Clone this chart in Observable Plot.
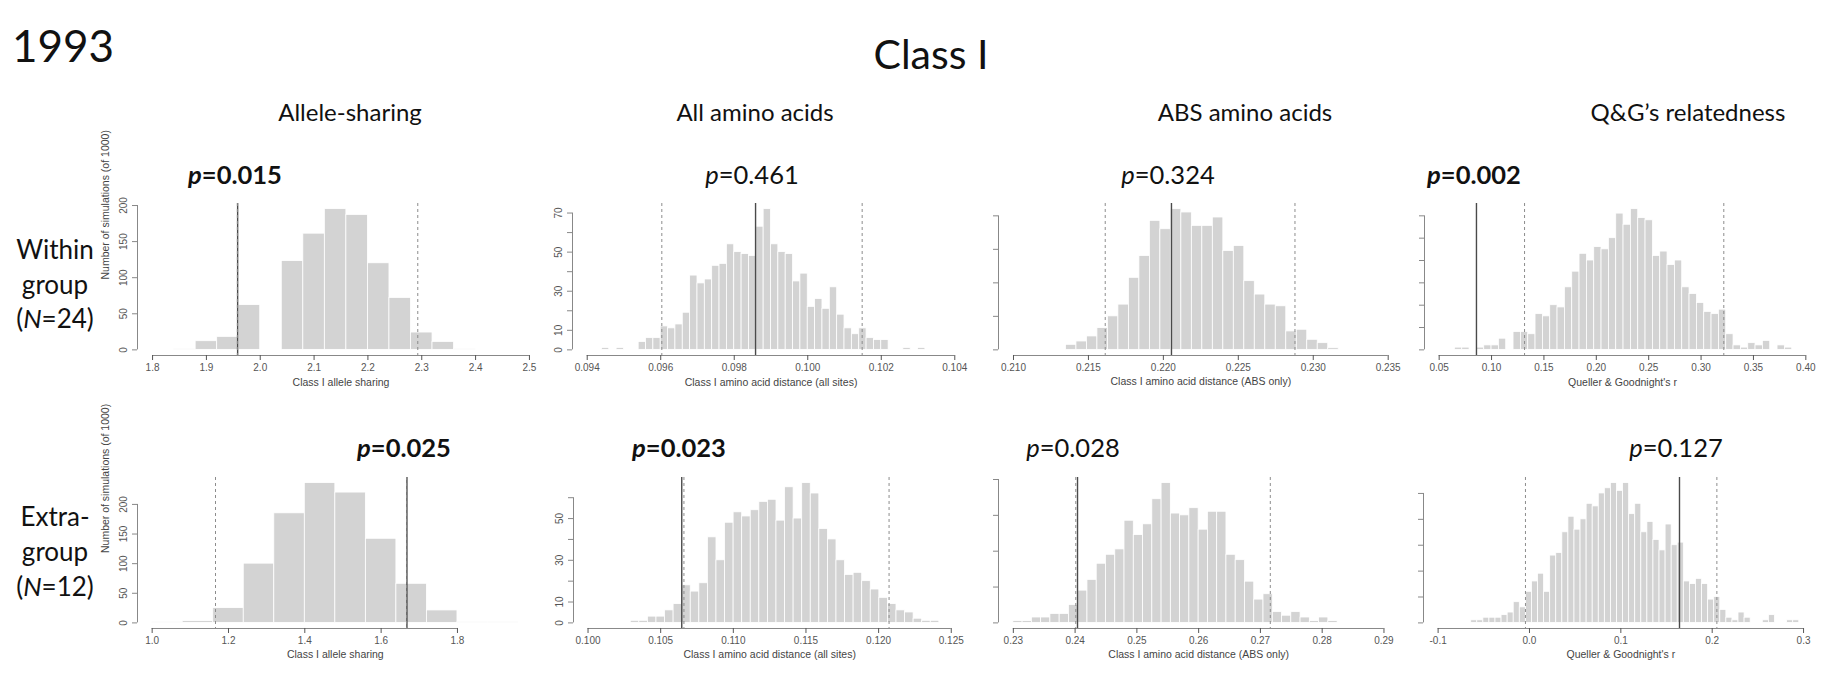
<!DOCTYPE html>
<html><head><meta charset="utf-8">
<script src="https://cdn.jsdelivr.net/npm/d3@7"></script>
<script src="https://cdn.jsdelivr.net/npm/@observablehq/plot@0.6"></script>
<style>
html,body{margin:0;padding:0;background:#fff;}
#root{position:relative;width:1836px;height:673px;overflow:hidden;background:#fff;font-family:Lato,"Open Sans",sans-serif;color:#111;}
.t{position:absolute;white-space:nowrap;line-height:1;}
.panel{position:absolute;}
</style></head><body><div id="root"></div>
<script>
// ---------- text ----------
const yearLabel = "1993";
const classLabel = "Class I";
const columnTitles = ["Allele-sharing", "All amino acids", "ABS amino acids", "Q&G\u2019s relatedness"];
const xAxisTitles = ["Class I allele sharing", "Class I amino acid distance (all sites)", "Class I amino acid distance (ABS only)", "Queller & Goodnight's r"];
const yAxisTitle = "Number of simulations (of 1000)";
const rowLabels = [["Within", "group", "(<i>N</i>=24)"], ["Extra-", "group", "(<i>N</i>=12)"]];
const pValues = [["0.015", "0.461", "0.324", "0.002"], ["0.025", "0.023", "0.028", "0.127"]];
const pBold = [[true, false, false, true], [true, true, false, false]];

// ---------- histogram counts (of 1000 simulations); bins = [first break, bin width] ----------
const withinAlleleCounts = [1, 12, 18, 62, 0, 123, 161, 195, 187, 120, 72, 24, 11, 1];
const withinAlleleBins = [1.84, 0.04];
const withinAllCounts = [1, 0, 1, 0, 0, 4, 6, 6, 12, 11, 13, 19, 38, 34, 36, 43, 44, 54, 50, 49, 48, 63, 72, 54, 50, 49, 35, 39, 22, 26, 21, 32, 18, 11, 8, 11, 6, 5, 5, 0, 0, 1, 0, 1];
const withinAllBins = [0.0944, 0.0002];
const withinAbsCounts = [3, 5, 8, 13, 20, 27, 43, 56, 77, 72, 84, 82, 74, 74, 79, 59, 62, 41, 33, 27, 26, 11, 12, 6, 4, 1];
const withinAbsBins = [0.2135, 0.0007];
const withinQgCounts = [1, 1, 0, 1, 2, 2, 5, 0, 8, 8, 7, 16, 15, 20, 19, 28, 35, 43, 40, 46, 45, 50, 61, 56, 63, 59, 58, 42, 44, 38, 40, 28, 25, 21, 17, 16, 18, 7, 2, 1, 3, 2, 4, 0, 2, 1];
const withinQgBins = [0.065, 0.007];

const extraAlleleCounts = [1, 3, 25, 100, 185, 236, 220, 142, 66, 21, 1, 1];
const extraAlleleBins = [1.0, 0.08];
const extraAllCounts = [1, 1, 3, 3, 6, 9, 18, 15, 19, 41, 30, 48, 53, 51, 54, 58, 59, 49, 65, 50, 67, 62, 45, 40, 30, 23, 24, 20, 16, 12, 9, 6, 5, 2, 1, 1];
const extraAllBins = [0.10294, 0.00059];
const extraAbsCounts = [1, 1, 3, 3, 5, 5, 10, 18, 24, 33, 38, 41, 57, 49, 55, 69, 78, 61, 60, 64, 52, 62, 62, 38, 35, 23, 13, 16, 6, 4, 6, 3, 1, 3, 1];
const extraAbsBins = [0.230, 0.0015];
const extraQgCounts = [1, 1, 2, 2, 2, 3, 4, 8, 6, 12, 16, 19, 12, 26, 27, 35, 41, 36, 40, 46, 45, 50, 52, 54, 51, 54, 42, 46, 35, 39, 32, 28, 38, 30, 31, 16, 15, 17, 15, 9, 10, 5, 2, 1, 4, 2, 0, 0, 1, 3, 0, 0, 1, 1];
const extraQgBins = [-0.0638, 0.00665];

// ---------- observed value and 2.5% / 97.5% quantiles ----------
const observed = [[1.958, 0.09858, 0.22054, 0.0856], [1.6676, 0.10645, 0.24039, 0.1642]];
const quantLow = [[1.9575, 0.09603, 0.21612, 0.1315], [1.166, 0.1066, 0.24011, -0.0044]];
const quantHigh = [[2.2926, 0.10148, 0.22878, 0.3217], [1.6668, 0.12072, 0.2716, 0.2051]];

// ---------- axes ----------
const xLimits = [[[1.8, 2.5], [0.094, 0.104], [0.21, 0.235], [0.05, 0.40]], [[1.0, 1.96], [0.1, 0.125], [0.23, 0.29], [-0.1, 0.3]]];
const xTicks = [
  [[1.8, 1.9, 2.0, 2.1, 2.2, 2.3, 2.4, 2.5], [0.094, 0.096, 0.098, 0.100, 0.102, 0.104], [0.210, 0.215, 0.220, 0.225, 0.230, 0.235], [0.05, 0.10, 0.15, 0.20, 0.25, 0.30, 0.35, 0.40]],
  [[1.0, 1.2, 1.4, 1.6, 1.8], [0.100, 0.105, 0.110, 0.115, 0.120, 0.125], [0.23, 0.24, 0.25, 0.26, 0.27, 0.28, 0.29], [-0.1, 0.0, 0.1, 0.2, 0.3]]
];
const xTickDecimals = [[1, 3, 3, 2], [1, 3, 2, 1]];
const yTicks = [
  [[0, 50, 100, 150, 200], [0, 10, 20, 30, 40, 50, 60, 70], [0, 20, 40, 60, 80], [0, 10, 20, 30, 40, 50, 60]],
  [[0, 50, 100, 150, 200], [0, 10, 20, 30, 40, 50, 60], [0, 20, 40, 60, 80], [0, 10, 20, 30, 40, 50]]
];
const yTickLabels = [
  [[0, 50, 100, 150, 200], [0, 10, 30, 50, 70], [], []],
  [[0, 50, 100, 150, 200], [0, 10, 30, 50], [], []]
];

const counts = [[withinAlleleCounts, withinAllCounts, withinAbsCounts, withinQgCounts], [extraAlleleCounts, extraAllCounts, extraAbsCounts, extraQgCounts]];
const bins = [[withinAlleleBins, withinAllBins, withinAbsBins, withinQgBins], [extraAlleleBins, extraAllBins, extraAbsBins, extraQgBins]];

// ---------- layout (page pixels) ----------
const layout = {
  rows: [{top: 203, bottom: 355, pY: 175}, {top: 476.5, bottom: 627.5, pY: 448}],
  regions: [[[137, 544], [572, 969], [998.3, 1403], [1424, 1820]], [[137.3, 533], [572.7, 965], [997.7, 1398], [1423.3, 1818]]],
  pX: [[235, 752, 1168, 1474], [404, 679, 1073, 1676]],
  titleX: [350, 755, 1245, 1688], titleY: 112,
  rowLabelX: 55, rowLabelY: [[249, 284, 318], [516, 551, 586]]
};

const root = document.getElementById("root");
function addText(html, x, y, size, opts = {}) {
  const d = document.createElement("div");
  d.className = "t";
  d.innerHTML = html;
  d.style.left = x + "px";
  d.style.top = y + "px";
  d.style.fontSize = size + "px";
  d.style.transform = opts.left ? "translate(0,-50%)" : "translate(-50%,-50%)";
  if (opts.bold) d.style.fontWeight = "700";
  root.appendChild(d);
}

addText(yearLabel, 12, 45, 44, {left: true});
addText(classLabel, 931, 53, 41);
columnTitles.forEach((t, i) => addText(t, layout.titleX[i], layout.titleY, 24));
rowLabels.forEach((lines, r) => lines.forEach((l, k) => addText(l, layout.rowLabelX, layout.rowLabelY[r][k], 26)));

const fmt = (dec) => (v) => d3.format("." + dec + "f")(v).replace("\u2212", "-");

for (let r = 0; r < 2; r++) {
  for (let c = 0; c < 4; c++) {
    const row = layout.rows[r];
    const reg = layout.regions[r][c];
    const padL = 62, padR = 22, padT = 6, padB = 48;
    const w = reg[1] - reg[0] + padL + padR;
    const h = row.bottom - row.top + padT + padB;
    const [lo, hi] = xLimits[r][c];
    const span = hi - lo;
    const xdom = [lo - 0.04 * span, hi + 0.04 * span];
    const cs = counts[r][c];
    const ymax = d3.max(cs);
    const ydom = [-0.04 * ymax, 1.04 * ymax];
    const [b0, bw] = bins[r][c];
    const data = cs.map((n, i) => ({x1: b0 + i * bw, x2: b0 + (i + 1) * bw, n})).filter(d => d.n > 0);
    const xt = xTicks[r][c], yt = yTicks[r][c];
    const marks = [
      Plot.rect(data, {x1: "x1", x2: "x2", y1: () => 0, y2: "n", fill: "#d3d3d3", stroke: "#fff", strokeWidth: 0.8}),
      Plot.ruleX([observed[r][c]], {stroke: "#4a4a4a", strokeWidth: 1.4}),
      Plot.ruleX([quantLow[r][c], quantHigh[r][c]], {stroke: "#8c8c8c", strokeWidth: 1, strokeDasharray: "3,3"}),
      Plot.ruleY([{y: ydom[0], a: xt[0], b: xt[xt.length - 1]}], {y: "y", x1: "a", x2: "b", stroke: "#888"}),
      Plot.axisX(xt, {anchor: "bottom", tickSize: 5, tickPadding: 3, tickFormat: fmt(xTickDecimals[r][c]), fontSize: 10, color: "#555", label: null, fontFamily: "'Liberation Sans', Arial, sans-serif"}),
      Plot.ruleX([{x: xdom[0], a: yt[0], b: yt[yt.length - 1]}], {x: "x", y1: "a", y2: "b", stroke: "#888"}),
      Plot.axisY(yt, {anchor: "left", tickSize: 5, tickFormat: () => "", color: "#888", label: null}),
      Plot.text(yTickLabels[r][c], {x: () => xdom[0], y: d => d, text: d => String(d), rotate: -90, dx: -14, fontSize: 10, fill: "#555", textAnchor: "middle", fontFamily: "'Liberation Sans', Arial, sans-serif"}),
      Plot.text([xAxisTitles[c]], {frameAnchor: "bottom", dy: 30, text: d => d, fontSize: 10.5, fill: "#444", fontFamily: "'Liberation Sans', Arial, sans-serif"})
    ];
    if (c === 0) marks.push(Plot.text([yAxisTitle], {frameAnchor: "left", dx: -32, rotate: -90, text: d => d, fontSize: 10.5, fill: "#444", fontFamily: "'Liberation Sans', Arial, sans-serif"}));
    const svg = Plot.plot({
      width: w, height: h, marginLeft: padL, marginRight: padR, marginTop: padT, marginBottom: padB,
      x: {domain: xdom, axis: null}, y: {domain: ydom, axis: null},
      style: "background: transparent; overflow: visible;",
      marks
    });
    svg.classList.add("panel");
    svg.style.left = (reg[0] - padL) + "px";
    svg.style.top = (row.top - padT) + "px";
    svg.style.maxWidth = "none";
    root.appendChild(svg);

    const pv = pValues[r][c];
    addText("<i>p</i>=" + pv, layout.pX[r][c], row.pY, 25.5, {bold: pBold[r][c]});
  }
}
</script></body></html>
